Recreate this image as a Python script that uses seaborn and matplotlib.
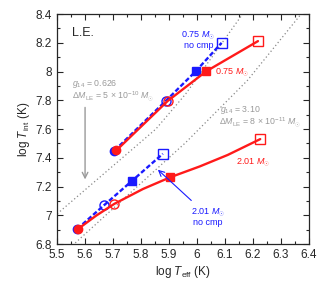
import numpy as np
import pandas as pd
import seaborn as sns
import matplotlib
matplotlib.use("Agg")
import matplotlib.pyplot as plt

# tracks: log Teff, log Tint  (filled circle, open circle, filled square, open square)
red_075_teff = [5.712, 5.895, 6.033, 6.218]
red_075_tint = [7.452, 7.795, 8.002, 8.212]
blue_075_teff = [5.705, 5.889, 5.995, 6.088]
blue_075_tint = [7.450, 7.797, 8.001, 8.200]

red_201_teff = [5.575, 5.640, 5.705, 5.807, 5.905, 6.010, 6.110, 6.226]
red_201_tint = [6.905, 6.998, 7.080, 7.183, 7.265, 7.340, 7.420, 7.530]
red_201_mark = ["fc", None, "oc", None, "fs", None, None, "os"]
blue_201_teff = [5.572, 5.669, 5.768, 5.878]
blue_201_tint = [6.905, 7.072, 7.240, 7.428]

# lines of constant surface gravity
g1_teff = [5.49, 5.853, 5.959, 6.163]
g1_tint = [6.993, 7.600, 7.843, 8.400]
g2_teff = [5.555, 5.959, 6.181, 6.372]
g2_tint = [6.790, 7.505, 7.940, 8.400]

red = "#ff1a1a"
blue = "#1a1aff"
gray = "#9a9a9a"

sns.set_style("ticks")
plt.rcParams["font.family"] = ["Liberation Sans", "DejaVu Sans"]
plt.rcParams["mathtext.fontset"] = "custom"
plt.rcParams["mathtext.rm"] = "Liberation Sans"
plt.rcParams["mathtext.it"] = "Liberation Sans:italic"
plt.rcParams["xtick.direction"] = "in"
plt.rcParams["ytick.direction"] = "in"

fig, ax = plt.subplots(figsize=(3.3, 2.94), dpi=100)
fig.subplots_adjust(left=0.173, right=0.936, bottom=0.17, top=0.952)

sns.lineplot(x=g1_teff, y=g1_tint, sort=False, estimator=None, ax=ax,
             color="#888888", lw=0.9, ls=(0, (1, 2)))
sns.lineplot(x=g2_teff, y=g2_tint, sort=False, estimator=None, ax=ax,
             color="#888888", lw=0.9, ls=(0, (1, 2)))

# blue (no compression) tracks, dashed
for tx, ty in [(blue_075_teff, blue_075_tint), (blue_201_teff, blue_201_tint)]:
    sns.lineplot(x=tx, y=ty, sort=False, estimator=None, ax=ax,
                 color=blue, lw=1.7, ls=(0, (2, 1)))
    ax.plot(tx[0], ty[0], "o", ms=6, color=blue)
    ax.plot(tx[1], ty[1], "o", ms=6.5, mfc="none", mec=blue, mew=1)
    ax.plot(tx[2], ty[2], "s", ms=6, color=blue)
    ax.plot(tx[3], ty[3], "s", ms=6.5, mfc="none", mec=blue, mew=1)

# red tracks, solid
sns.lineplot(x=red_075_teff, y=red_075_tint, sort=False, estimator=None,
             ax=ax, color=red, lw=1.7)
sns.lineplot(x=red_201_teff, y=red_201_tint, sort=False, estimator=None,
             ax=ax, color=red, lw=1.7)
r201 = pd.DataFrame({"x": red_201_teff, "y": red_201_tint, "m": red_201_mark}).dropna()
for tx, ty in [(red_075_teff, red_075_tint), (list(r201.x), list(r201.y))]:
    ax.plot(tx[0], ty[0], "o", ms=6, color=red)
    ax.plot(tx[1], ty[1], "o", ms=6.5, mfc="none", mec=red, mew=1)
    ax.plot(tx[2], ty[2], "s", ms=6, color=red)
    ax.plot(tx[3], ty[3], "s", ms=6.5, mfc="none", mec=red, mew=1)

ax.set_xlim(5.5, 6.4)
ax.set_ylim(6.8, 8.4)
ax.set_xticks(np.arange(5.5, 6.41, 0.1))
ax.set_xticklabels(["5.5", "5.6", "5.7", "5.8", "5.9", "6", "6.1", "6.2", "6.3", "6.4"])
ax.set_yticks(np.arange(6.8, 8.41, 0.2))
ax.set_yticklabels(["6.8", "7", "7.2", "7.4", "7.6", "7.8", "8", "8.2", "8.4"])
ax.set_xticks(np.arange(5.5, 6.41, 0.05), minor=True)
ax.set_yticks(np.arange(6.8, 8.41, 0.1), minor=True)
ax.tick_params(which="both", top=True, right=True, labelsize=8.5, width=0.8)
ax.tick_params(which="major", length=4)
ax.tick_params(which="minor", length=2.5)
for s in ax.spines.values():
    s.set_linewidth(0.9)

ax.set_xlabel(r"log $T_{\rm eff}$ (K)", fontsize=8.5, labelpad=2)
ax.set_ylabel(r"log $T_{\rm int}$ (K)", fontsize=8.5, labelpad=3)

ax.text(5.553, 8.27, "L.E.", fontsize=9, va="center")

ax.text(5.553, 7.915, r"$g_{14}$ = 0.626", fontsize=6.3, color=gray, va="center")
ax.text(5.553, 7.83, r"$\Delta M_{\rm LE}$ = 5 $\times$ 10$^{-10}$ $M_{\odot}$",
        fontsize=6.3, color=gray, va="center")
ax.text(6.083, 7.735, r"$g_{14}$ = 3.10", fontsize=6.3, color=gray, va="center")
ax.text(6.078, 7.65, r"$\Delta M_{\rm LE}$ = 8 $\times$ 10$^{-11}$ $M_{\odot}$",
        fontsize=6.3, color=gray, va="center")

ax.annotate("", xy=(5.6, 7.23), xytext=(5.6, 7.77),
            arrowprops=dict(arrowstyle="->", color=gray, lw=1.0))

ax.text(6.065, 8.0, r"0.75 $M_{\odot}$", color=red, fontsize=6.5, va="center")
ax.text(6.139, 7.37, r"2.01 $M_{\odot}$", color=red, fontsize=6.5, va="center")
ax.text(6.005, 8.225, "0.75 $M_{\\odot}$\nno cmp", color=blue, fontsize=6.5,
        ha="center", va="center", linespacing=1.0)
ax.text(6.04, 6.99, "2.01 $M_{\\odot}$\nno cmp", color=blue, fontsize=6.5,
        ha="center", va="center", linespacing=1.0)
ax.annotate("", xy=(5.853, 7.33), xytext=(5.987, 7.09),
            arrowprops=dict(arrowstyle="->", color=blue, lw=0.8))

fig.savefig("out.png", dpi=100)
